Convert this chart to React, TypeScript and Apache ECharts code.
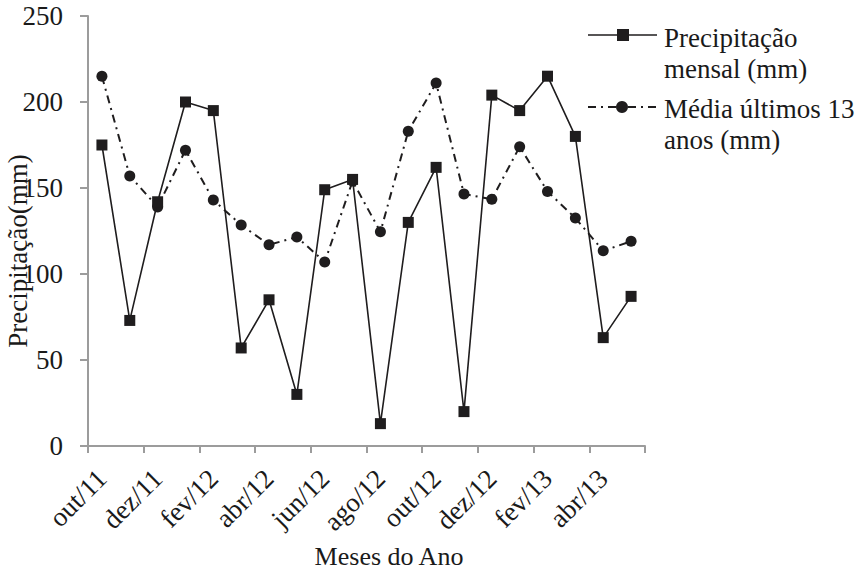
import React, { useEffect, useRef } from "react";
import * as echarts from "echarts";

// Months from Oct/2011 to May/2013
const months = [
  "out/11", "nov/11", "dez/11", "jan/12", "fev/12", "mar/12", "abr/12",
  "mai/12", "jun/12", "jul/12", "ago/12", "set/12", "out/12", "nov/12",
  "dez/12", "jan/13", "fev/13", "mar/13", "abr/13", "mai/13",
];

// Monthly rainfall (mm)
const precipitacaoMensal = [
  175, 73, 142, 200, 195, 57, 85, 30, 149, 155,
  13, 130, 162, 20, 204, 195, 215, 180, 63, 87,
];

// Average of the last 13 years (mm)
const mediaUltimos13 = [
  215, 157, 139, 172, 143, 128.5, 117, 121.5, 107, 154,
  124.5, 183, 211, 146.5, 143.5, 174, 148, 132.5, 113.5, 119,
];

const yTicks = { min: 0, max: 250, interval: 50 };

const legendNames = ["Precipitação\nmensal (mm)", "Média últimos 13\nanos (mm)"];

const FONT = "'Liberation Serif', 'Times New Roman', serif";
const TEXT = "#1a1a1a";
const AXIS = "#9c9c9c";
const INK = "#1f1d1e";
const DASH_DOT = [8, 5, 2, 5];

export default function App() {
  const ref = useRef<HTMLDivElement>(null);

  useEffect(() => {
    if (!ref.current) return;
    const chart = echarts.init(ref.current, null, { renderer: "svg" });

    chart.setOption({
      animation: false,
      backgroundColor: "#ffffff",
      grid: { left: 88, right: 218, top: 16, bottom: 125, containLabel: false },
      xAxis: {
        type: "category",
        data: months,
        boundaryGap: true,
        axisLine: { show: true, lineStyle: { color: AXIS, width: 2 } },
        axisTick: {
          show: true,
          inside: false,
          interval: 1,
          length: 7,
          lineStyle: { color: AXIS, width: 2 },
        },
        axisLabel: {
          interval: 1,
          rotate: 45,
          margin: 28,
          color: TEXT,
          fontFamily: FONT,
          fontSize: 27,
        },
        splitLine: { show: false },
      },
      yAxis: {
        type: "value",
        min: yTicks.min,
        max: yTicks.max,
        interval: yTicks.interval,
        axisLine: { show: true, lineStyle: { color: AXIS, width: 2 } },
        axisTick: {
          show: true,
          inside: false,
          length: 8,
          lineStyle: { color: AXIS, width: 2 },
        },
        axisLabel: { margin: 25, color: TEXT, fontFamily: FONT, fontSize: 27 },
        splitLine: { show: false },
      },
      series: [
        {
          name: legendNames[0],
          type: "line",
          data: precipitacaoMensal,
          symbol: "rect",
          symbolSize: 11,
          itemStyle: { color: INK },
          lineStyle: { color: INK, width: 1.6, type: "solid" },
          z: 3,
        },
        {
          name: legendNames[1],
          type: "line",
          data: mediaUltimos13,
          symbol: "circle",
          symbolSize: 11,
          itemStyle: { color: INK },
          lineStyle: { color: INK, width: 2, type: DASH_DOT },
          z: 2,
        },
      ],
      graphic: [
        // y-axis title
        {
          type: "text",
          x: 18,
          y: 251,
          rotation: Math.PI / 2,
          style: {
            text: "Precipitação(mm)",
            font: `27px ${FONT}`,
            fill: TEXT,
            align: "center",
            verticalAlign: "middle",
          },
        },
        // x-axis title
        {
          type: "text",
          x: 389,
          y: 556,
          style: {
            text: "Meses do Ano",
            font: `26px ${FONT}`,
            fill: TEXT,
            align: "center",
            verticalAlign: "middle",
          },
        },
        // legend: monthly rainfall
        {
          type: "line",
          shape: { x1: 588, y1: 35, x2: 657, y2: 35 },
          style: { stroke: INK, lineWidth: 1.6 },
        },
        {
          type: "rect",
          shape: { x: 617, y: 29, width: 12, height: 12 },
          style: { fill: INK },
        },
        {
          type: "text",
          x: 664,
          y: 22.5,
          style: {
            text: legendNames[0],
            font: `27px ${FONT}`,
            lineHeight: 31,
            fill: TEXT,
            align: "left",
            verticalAlign: "top",
          },
        },
        // legend: 13-year average
        {
          type: "line",
          shape: { x1: 588, y1: 107, x2: 657, y2: 107 },
          style: { stroke: INK, lineWidth: 2, lineDash: DASH_DOT },
        },
        {
          type: "circle",
          shape: { cx: 622, cy: 107, r: 6 },
          style: { fill: INK },
        },
        {
          type: "text",
          x: 664,
          y: 93.5,
          style: {
            text: legendNames[1],
            font: `27px ${FONT}`,
            lineHeight: 31,
            fill: TEXT,
            align: "left",
            verticalAlign: "top",
          },
        },
      ],
    });

    return () => chart.dispose();
  }, []);

  return (
    <div
      ref={ref}
      style={{ position: "absolute", left: 0, top: 0, width: 863, height: 571, background: "#fff" }}
    />
  );
}
